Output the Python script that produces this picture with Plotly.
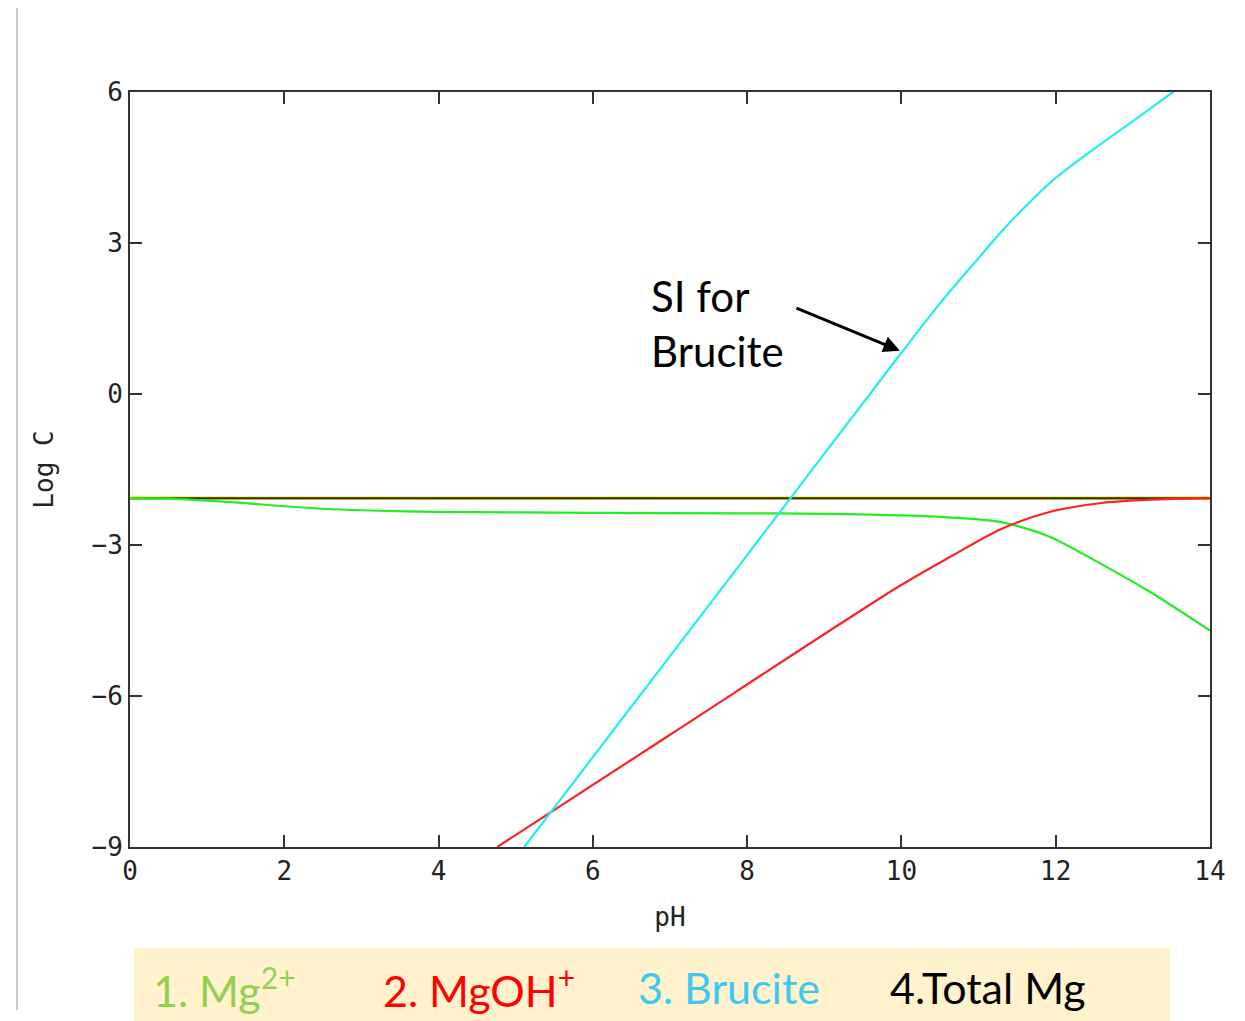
import plotly.graph_objects as go

# ---- data ----
ph_mg = [0, 0.5, 1, 1.5, 2, 2.5, 3, 4, 6, 8, 9, 9.98, 10.5, 11, 11.28, 11.5, 11.93, 12.57, 13.22, 14]
log_mg = [-2.07, -2.08, -2.12, -2.17, -2.23, -2.28, -2.31, -2.34, -2.36, -2.37, -2.38,
          -2.41, -2.44, -2.49, -2.54, -2.62, -2.84, -3.36, -3.93, -4.7]

ph_mgoh = [4.76, 7, 9.98, 10.65, 11.28, 11.93, 12.57, 13.22, 14]
log_mgoh = [-9.0, -6.77, -3.81, -3.22, -2.69, -2.34, -2.17, -2.1, -2.07]

ph_bru = [5.11, 8, 10, 10.5, 11, 11.28, 11.93, 12.57, 13.0, 13.52, 14]
si_bru = [-9.0, -3.2, 0.82, 1.8, 2.7, 3.2, 4.2, 4.95, 5.42, 6.0, 6.5]

ph_tot = [0, 14]
log_tot = [-2.07, -2.07]

x_ticks = [0, 2, 4, 6, 8, 10, 12, 14]
y_ticks = [-9, -6, -3, 0, 3, 6]

legend_labels = ["1. Mg<sup>2+</sup>", "2. MgOH<sup>+</sup>", "3. Brucite", "4.Total Mg"]
legend_colors = ["#92D050", "#FF0000", "#3CC8F0", "#000000"]
legend_x = [0.0195, 0.2325, 0.4685, 0.702]

# page body adds an 8px offset; compensate so the plot lands where the reference has it
OFF = 8
W, H = 1245 - OFF, 1021 - OFF
L, R, T, B = 130 - OFF, 35, 92 - OFF, 174

fig = go.Figure()
fig.add_trace(go.Scatter(x=ph_tot, y=log_tot, mode="lines", line=dict(color="#E8E000", width=3.6), hoverinfo="skip"))
fig.add_trace(go.Scatter(x=ph_tot, y=log_tot, mode="lines", line=dict(color="#2a2a2a", width=2), name="Total Mg"))
fig.add_trace(go.Scatter(x=ph_mg, y=log_mg, mode="lines",
                         line=dict(color="#22EE22", width=2.2, shape="spline", smoothing=0.8), name="Mg2+"))
fig.add_trace(go.Scatter(x=ph_mgoh, y=log_mgoh, mode="lines",
                         line=dict(color="#FF2222", width=2.2, shape="spline", smoothing=0.8), name="MgOH+"))
fig.add_trace(go.Scatter(x=ph_bru, y=si_bru, mode="lines",
                         line=dict(color="#22EEEE", width=2.2, shape="spline", smoothing=0.8), name="Brucite"))

axis_font = dict(family="DejaVu Sans Mono", size=26, color="#222222")

fig.update_xaxes(range=[0, 14], tickvals=x_ticks, ticks="inside", ticklen=12, tickwidth=2, tickcolor="#333333",
                 showline=True, linecolor="#333333", linewidth=2, mirror="ticks", showgrid=False, zeroline=False,
                 tickfont=axis_font, title=dict(text="pH", font=axis_font, standoff=23))
fig.update_yaxes(range=[-9, 6], tickvals=y_ticks, ticks="inside", ticklen=12, tickwidth=2, tickcolor="#333333",
                 showline=True, linecolor="#333333", linewidth=2, mirror="ticks", showgrid=False, zeroline=False,
                 tickfont=axis_font, title=dict(text="Log C", font=axis_font, standoff=30))

def px_x(px):
    return (px - 130) / 1080

def px_y(py):
    return (847 - py) / 755

shapes = [
    dict(type="rect", xref="paper", yref="paper", x0=px_x(134), x1=px_x(1170), y0=px_y(1021), y1=px_y(948),
         fillcolor="#FFF2CC", line=dict(width=0), layer="below"),
    dict(type="line", xref="paper", yref="paper", x0=px_x(17), x1=px_x(17), y0=px_y(1010), y1=px_y(8),
         line=dict(color="#C8C8C8", width=2)),
]

annotations = []
for lab, col, lx in zip(legend_labels, legend_colors, legend_x):
    annotations.append(dict(text=lab, xref="paper", yref="paper", x=lx, y=px_y(987), xanchor="left", yanchor="middle",
                            showarrow=False, font=dict(family="Lato", size=43, color=col)))

annotations.append(dict(text="SI for<br>Brucite", xref="x", yref="y", x=6.73, y=1.4, xanchor="left", yanchor="middle",
                        align="left", showarrow=False, font=dict(family="Lato", size=42, color="#000000")))
annotations.append(dict(text="", xref="x", yref="y", x=9.98, y=0.86, axref="x", ayref="y", ax=8.62, ay=1.72,
                        showarrow=True, arrowhead=2, arrowsize=1.1, arrowwidth=3, arrowcolor="#000000"))

fig.update_layout(width=W, height=H, margin=dict(l=L, r=R, t=T, b=B), plot_bgcolor="white", paper_bgcolor="white",
                  showlegend=False, shapes=shapes, annotations=annotations)

fig.write_html("out.html")
